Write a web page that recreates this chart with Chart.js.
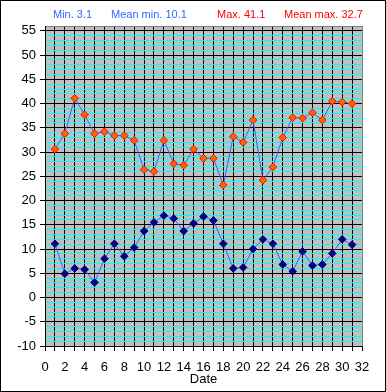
<!DOCTYPE html>
<html>
<head>
<meta charset="utf-8">
<script src="https://cdn.jsdelivr.net/npm/chart.js@4/dist/chart.umd.min.js"></script>
<style>
  body { margin: 0; background: #fff; }
  #wrap { position: relative; width: 386px; height: 392px; }
  #wrap canvas { position: absolute; left: 0; top: 0; }
  #frame { position: absolute; left: 0; top: 0; width: 386px; height: 392px; box-sizing: border-box; border: 1px solid #000; pointer-events: none; }
  .hdr { position: absolute; top: 8px; font: 11px "Liberation Sans", Arial, sans-serif; white-space: nowrap; }
</style>
</head>
<body>
<div id="wrap">
  <canvas id="temp-chart" width="386" height="392"></canvas>
  <div id="frame"></div>
  <span class="hdr" style="left:53px;color:#3366ff">Min. 3.1</span>
  <span class="hdr" style="left:111px;color:#3366ff">Mean min. 10.1</span>
  <span class="hdr" style="left:217px;color:#ff0000">Max. 41.1</span>
  <span class="hdr" style="left:284px;color:#ff0000">Mean max. 32.7</span>
</div>
<script>
const days = [1,2,3,4,5,6,7,8,9,10,11,12,13,14,15,16,17,18,19,20,21,22,23,24,25,26,27,28,29,30,31]
const maxTemps = [30.6,33.8,41.1,37.7,33.8,34.2,33.4,33.4,32.4,26.4,26.0,32.4,27.6,27.3,30.6,28.7,28.7,23.2,33.2,32.0,36.6,24.2,26.9,33.0,37.1,37.0,38.1,36.6,40.5,40.3,40.0]
const minTemps = [11.1,4.9,6.0,5.8,3.1,8.0,11.1,8.5,10.3,13.7,15.5,16.9,16.3,13.7,15.3,16.7,15.9,11.1,6.0,6.2,10.0,12.0,11.1,6.8,5.4,9.5,6.6,6.8,9.1,12.0,10.9]

const toPoints = (vals) => vals.map((v, i) => ({x: days[i], y: v}))

const plotBg = {
    id: 'plotBg',
    beforeDraw(chart) {
        const {ctx, chartArea: a} = chart
        ctx.save()
        ctx.fillStyle = '#fff'
        ctx.fillRect(0, 0, chart.width, chart.height)
        ctx.fillStyle = '#c0c0c0'
        ctx.fillRect(a.left, a.top, a.right - a.left, a.bottom - a.top)
        ctx.restore()
    }
}

const font = {family: '"Liberation Sans", Arial, sans-serif', size: 13}

new Chart(document.querySelector('#temp-chart'), {
    type: 'scatter',
    data: {
        datasets: [
            {
                label: 'Max',
                data: toPoints(maxTemps),
                showLine: true,
                borderColor: '#3366ff',
                borderWidth: 1,
                pointStyle: 'rectRot',
                pointRadius: 3.8,
                pointBackgroundColor: '#ff6600',
                pointBorderColor: '#ff0000',
                pointBorderWidth: 1,
            },
            {
                label: 'Min',
                data: toPoints(minTemps),
                showLine: true,
                borderColor: '#3366ff',
                borderWidth: 1,
                pointStyle: 'rectRot',
                pointRadius: 3.8,
                pointBackgroundColor: '#000080',
                pointBorderColor: '#000080',
                pointBorderWidth: 1,
            }
        ]
    },
    options: {
        responsive: false,
        animation: false,
        layout: {padding: {top: 26, right: 24, left: 0, bottom: 0}},
        plugins: {legend: {display: false}, tooltip: {enabled: false}},
        scales: {
            x: {
                type: 'linear',
                min: 0,
                max: 32,
                afterFit: (s) => { s.height = 46 },
                ticks: {
                    stepSize: 1,
                    autoSkip: false,
                    maxRotation: 0,
                    color: '#000',
                    font: font,
                    padding: 9,
                    callback: (v) => v % 2 === 0 ? v : ''
                },
                grid: {
                    color: (c) => c.tick.value === 32 ? '#808080' : '#000',
                    tickColor: '#000',
                    tickLength: 5,
                    lineWidth: 1
                },
                border: {color: '#000'},
                title: {display: true, text: 'Date', color: '#000', font: font, padding: {top: 0, bottom: 5}}
            },
            y: {
                min: -10,
                max: 56,
                afterFit: (s) => { s.width = 45 },
                ticks: {
                    stepSize: 1,
                    autoSkip: false,
                    color: '#000',
                    font: font,
                    padding: 4,
                    callback: (v) => v % 5 === 0 ? v : ''
                },
                grid: {
                    color: (c) => {
                        const v = c.tick.value
                        if (v === 56) return '#808080'
                        return v % 5 === 0 ? '#000' : '#00ffff'
                    },
                    tickColor: (c) => c.tick.value % 5 === 0 ? '#000' : 'rgba(0,0,0,0)',
                    tickLength: 5,
                    lineWidth: 1
                },
                border: {color: '#000'}
            }
        }
    },
    plugins: [plotBg]
})
</script>
</body>
</html>
